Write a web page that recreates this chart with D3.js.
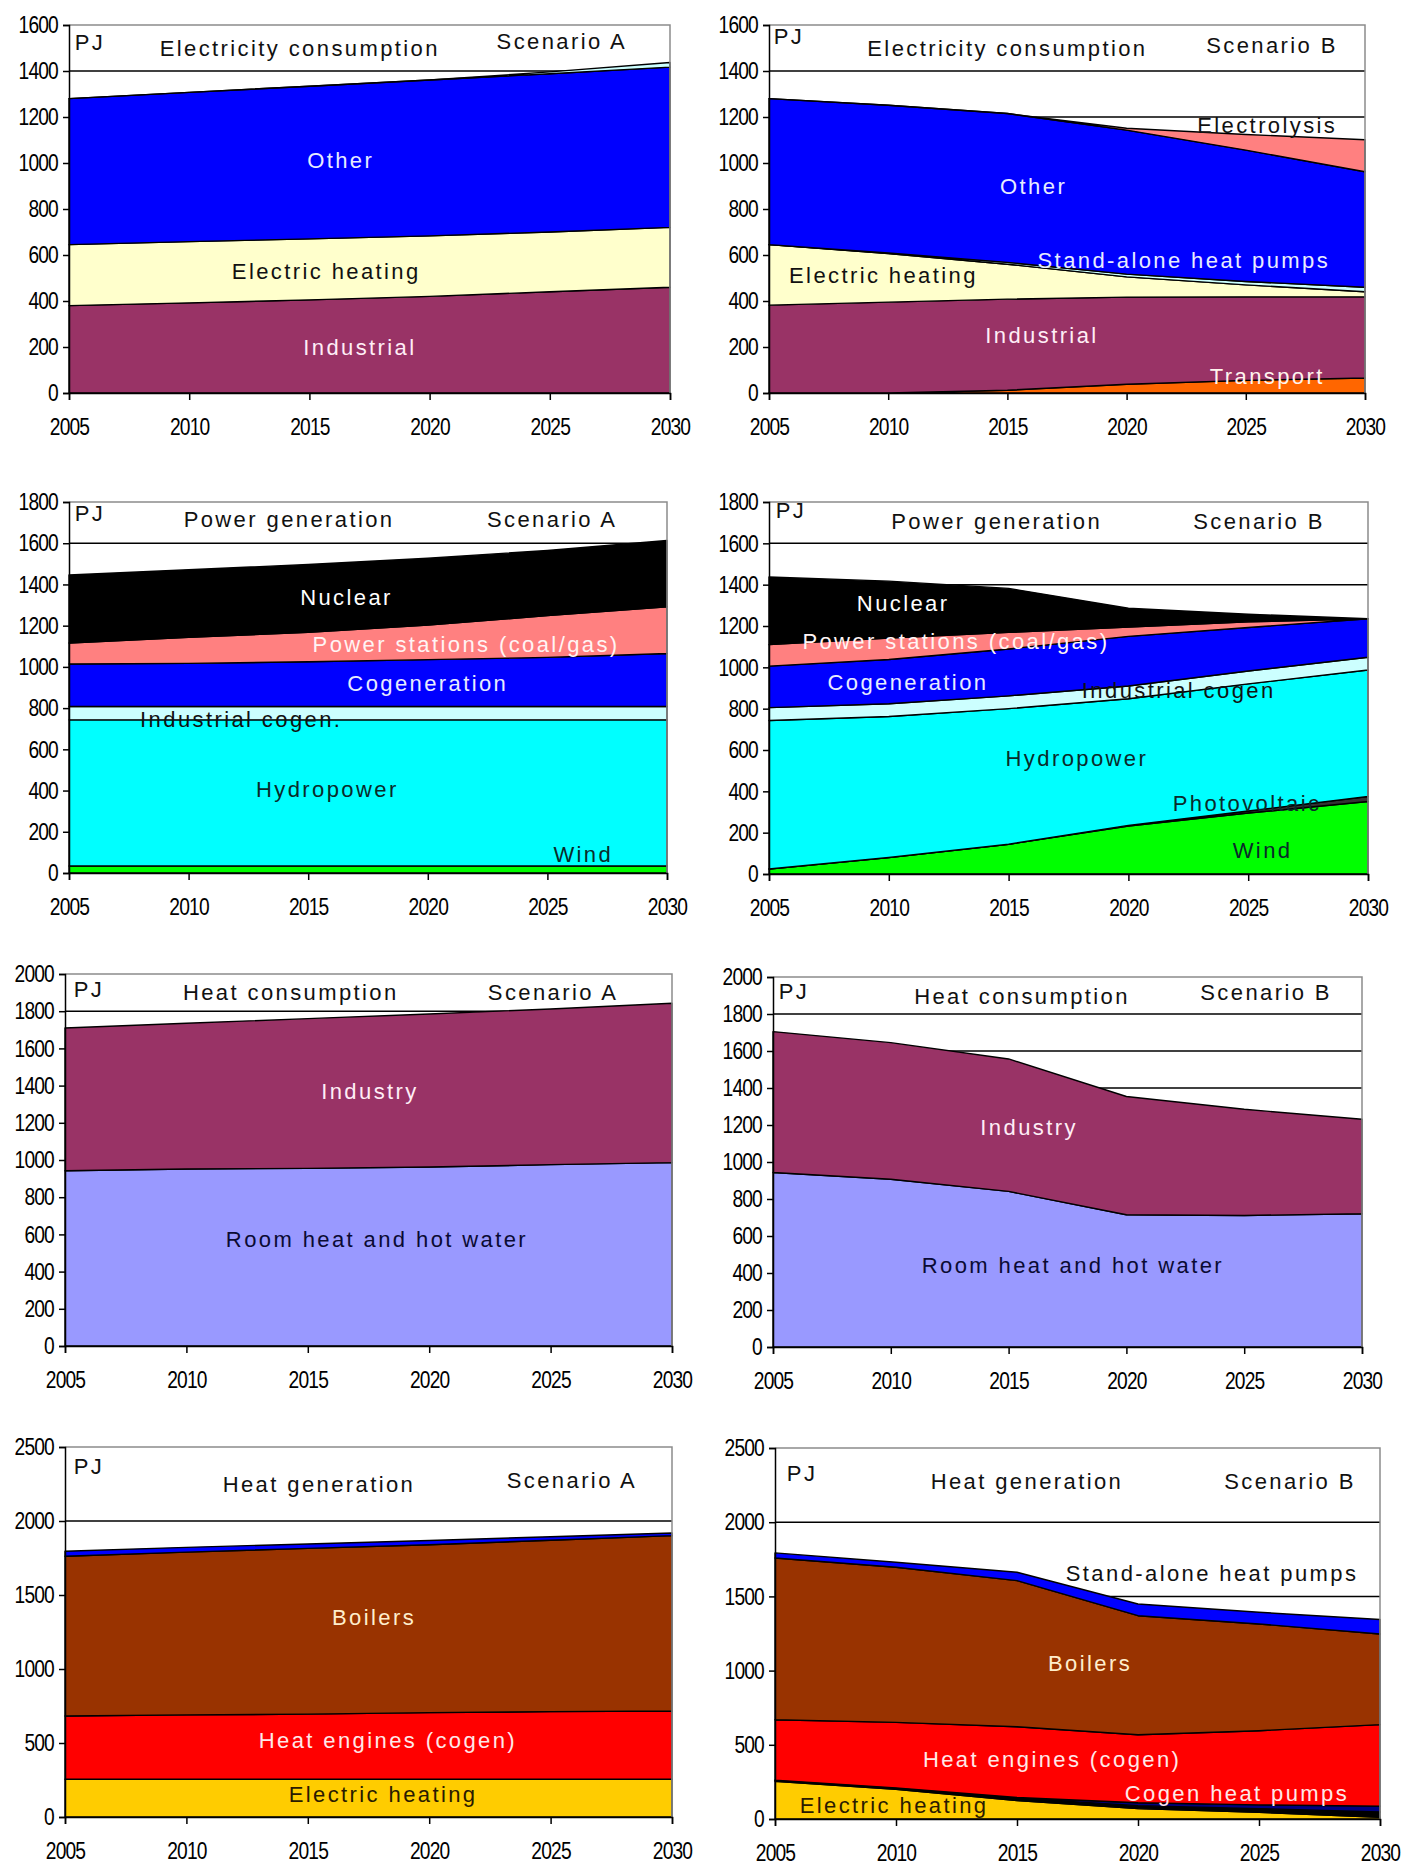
<!DOCTYPE html>
<html>
<head>
<meta charset="utf-8">
<script src="https://cdn.jsdelivr.net/npm/d3@7"></script>
<style>
  body { margin: 0; background: #fff; }
  svg { display: block; }
  .axis text { font-family: "Liberation Sans", Arial, sans-serif; font-size: 24px; letter-spacing: -1px; fill: #000; }
  .axis path, .axis line { stroke: #000; stroke-width: 1.5px; }
  .lbl { font-family: "Liberation Sans", Arial, sans-serif; font-size: 22px; letter-spacing: 2.4px; }
</style>
</head>
<body>
<svg id="chart" width="1404" height="1866"></svg>
<script>
// Years on the horizontal axis of every panel
const years = [2005, 2010, 2015, 2020, 2025, 2030];

// Electricity consumption, scenario A (PJ per series, stacked bottom to top)
const elecA_industrial = [380, 392, 405, 420, 440, 460];
const elecA_heating    = [265, 266, 265, 263, 260, 260];
const elecA_other      = [635, 649, 664, 678, 688, 697];
const elecA_pumps      = [0, 0, 0, 0, 8, 20];

// Electricity consumption, scenario B
const elecB_transport   = [0, 0, 12, 38, 55, 65];
const elecB_industrial  = [382, 395, 396, 379, 363, 353];
const elecB_heating     = [263, 211, 152, 88, 52, 22];
const elecB_pumps       = [0, 3, 8, 12, 15, 20];
const elecB_other       = [635, 642, 647, 626, 571, 502];
const elecB_electrolysis = [0, 0, 0, 8, 68, 139];

// Power generation, scenario A
const powA_wind     = [34, 34, 34, 34, 34, 34];
const powA_hydro    = [709, 709, 709, 709, 709, 709];
const powA_indCogen = [65, 65, 65, 65, 65, 65];
const powA_cogen    = [206, 209, 217, 227, 238, 257];
const powA_stations = [102, 126, 143, 168, 203, 227];
const powA_nuclear  = [330, 328, 329, 324, 316, 321];

// Power generation, scenario B
const powB_wind     = [24, 80, 144, 232, 295, 351];
const powB_pv       = [0, 0, 0, 3, 10, 24];
const powB_hydro    = [719, 682, 656, 613, 615, 612];
const powB_indCogen = [62, 62, 62, 62, 62, 62];
const powB_cogen    = [201, 214, 227, 240, 211, 186];
const powB_stations = [104, 104, 80, 45, 27, 0];
const powB_nuclear  = [327, 275, 213, 91, 37, 0];

// Heat consumption
const heatA_room     = [942, 952, 955, 962, 975, 986];
const heatA_industry = [768, 783, 805, 823, 837, 857];
const heatB_room     = [943, 907, 841, 715, 711, 720];
const heatB_industry = [762, 738, 716, 639, 574, 511];

// Heat generation, scenario A
const genA_electric = [255, 255, 255, 255, 255, 255];
const genA_engines  = [427, 435, 440, 450, 457, 461];
const genA_boilers  = [1080, 1100, 1120, 1135, 1158, 1185];
const genA_pumps    = [34, 32, 30, 28, 24, 18];

// Heat generation, scenario B
const genB_electric    = [254, 200, 125, 70, 45, 12];
const genB_misc        = [8, 10, 15, 20, 25, 35];
const genB_cogenPumps  = [0, 0, 5, 20, 25, 40];
const genB_engines     = [407, 441, 477, 458, 500, 549];
const genB_boilers     = [1090, 1045, 984, 802, 719, 611];
const genB_pumps       = [34, 34, 57, 79, 79, 97];

// Series colours
const C = {
  plum: "#993366", cream: "#ffffcc", blue: "#0000ff", salmon: "#ff8080",
  orange: "#ff6600", paleCyan: "#ccffff", black: "#000000", cyan: "#00ffff",
  green: "#00ff00", darkGrey: "#333333", lavender: "#9999ff", gold: "#ffcc00",
  red: "#ff0000", brown: "#993300", navy: "#000080"
};

// Panel definitions: frame [left, top, right, bottom], y-range, series, labels (placed in data units)
const panels = [
  {
    box: [69, 25, 670, 393], yMax: 1600, yStep: 200,
    title: "Electricity consumption", scen: "Scenario A",
    head: { pj: [2005.87, 1526], title: [2014.6, 1496], scen: [2025.5, 1530] },
    series: [
      { v: elecA_industrial, fill: C.plum },
      { v: elecA_heating, fill: C.cream },
      { v: elecA_other, fill: C.blue },
      { v: elecA_pumps, fill: C.paleCyan }
    ],
    labels: [
      { t: "Other", at: [2016.3, 1009], c: "#e8ecff" },
      { t: "Electric heating", at: [2015.7, 530], c: "#111" },
      { t: "Industrial", at: [2017.1, 200], c: "#ffeef6" }
    ]
  },
  {
    box: [769, 25, 1365, 393], yMax: 1600, yStep: 200,
    title: "Electricity consumption", scen: "Scenario B",
    head: { pj: [2005.84, 1552], title: [2015.0, 1500], scen: [2026.1, 1513] },
    series: [
      { v: elecB_transport, fill: C.orange },
      { v: elecB_industrial, fill: C.plum },
      { v: elecB_heating, fill: C.cream },
      { v: elecB_pumps, fill: C.paleCyan },
      { v: elecB_other, fill: C.blue },
      { v: elecB_electrolysis, fill: C.salmon }
    ],
    labels: [
      { t: "Electrolysis", at: [2025.9, 1165], c: "#111" },
      { t: "Other", at: [2016.1, 896], c: "#e8ecff" },
      { t: "Stand-alone heat pumps", at: [2022.4, 574], c: "#e8ecff" },
      { t: "Electric heating", at: [2009.8, 513], c: "#111" },
      { t: "Industrial", at: [2016.45, 248], c: "#ffeef6" },
      { t: "Transport", at: [2025.9, 70], c: "#fff4ee" }
    ]
  },
  {
    box: [69, 502, 667, 873], yMax: 1800, yStep: 200,
    title: "Power generation", scen: "Scenario A",
    head: { pj: [2005.88, 1742], title: [2014.2, 1713], scen: [2025.2, 1713] },
    series: [
      { v: powA_wind, fill: C.green },
      { v: powA_hydro, fill: C.cyan },
      { v: powA_indCogen, fill: C.paleCyan },
      { v: powA_cogen, fill: C.blue },
      { v: powA_stations, fill: C.salmon },
      { v: powA_nuclear, fill: C.black }
    ],
    labels: [
      { t: "Nuclear", at: [2016.6, 1339], c: "#fff" },
      { t: "Power stations (coal/gas)", at: [2021.6, 1111], c: "#fff4f4" },
      { t: "Cogeneration", at: [2020.0, 917], c: "#e8ecff" },
      { t: "Industrial cogen.", at: [2012.2, 747], c: "#111" },
      { t: "Hydropower", at: [2015.8, 403], c: "#0a2a2a" },
      { t: "Wind", at: [2026.5, 92], c: "#0a2a2a" }
    ]
  },
  {
    box: [769, 502, 1368, 874], yMax: 1800, yStep: 200,
    title: "Power generation", scen: "Scenario B",
    head: { pj: [2005.92, 1761], title: [2014.5, 1708], scen: [2025.45, 1708] },
    series: [
      { v: powB_wind, fill: C.green },
      { v: powB_pv, fill: C.darkGrey },
      { v: powB_hydro, fill: C.cyan },
      { v: powB_indCogen, fill: C.paleCyan },
      { v: powB_cogen, fill: C.blue },
      { v: powB_stations, fill: C.salmon },
      { v: powB_nuclear, fill: C.black }
    ],
    labels: [
      { t: "Nuclear", at: [2010.6, 1311], c: "#fff" },
      { t: "Power stations (coal/gas)", at: [2012.8, 1123], c: "#fff4f4" },
      { t: "Cogeneration", at: [2010.8, 929], c: "#e8ecff" },
      { t: "Industrial cogen", at: [2022.1, 890], c: "#111" },
      { t: "Hydropower", at: [2017.85, 561], c: "#0a2a2a" },
      { t: "Photovoltaic", at: [2024.95, 339], c: "#0a2a2a" },
      { t: "Wind", at: [2025.6, 116], c: "#0a2a2a" }
    ]
  },
  {
    box: [65, 974, 672, 1346], yMax: 2000, yStep: 200,
    title: "Heat consumption", scen: "Scenario A",
    head: { pj: [2005.99, 1914], title: [2014.3, 1898], scen: [2025.1, 1903] },
    series: [
      { v: heatA_room, fill: C.lavender },
      { v: heatA_industry, fill: C.plum }
    ],
    labels: [
      { t: "Industry", at: [2017.56, 1366], c: "#ffeef6" },
      { t: "Room heat and hot water", at: [2017.85, 575], c: "#0a0a33" }
    ]
  },
  {
    box: [773, 977, 1362, 1347], yMax: 2000, yStep: 200,
    title: "Heat consumption", scen: "Scenario B",
    head: { pj: [2005.89, 1919], title: [2015.57, 1897], scen: [2025.93, 1914] },
    series: [
      { v: heatB_room, fill: C.lavender },
      { v: heatB_industry, fill: C.plum }
    ],
    labels: [
      { t: "Industry", at: [2015.87, 1184], c: "#ffeef6" },
      { t: "Room heat and hot water", at: [2017.73, 438], c: "#0a0a33" }
    ]
  },
  {
    box: [65, 1447, 672, 1817], yMax: 2500, yStep: 500,
    title: "Heat generation", scen: "Scenario A",
    head: { pj: [2005.99, 2365], title: [2015.46, 2250], scen: [2025.88, 2277] },
    series: [
      { v: genA_electric, fill: C.gold },
      { v: genA_engines, fill: C.red },
      { v: genA_boilers, fill: C.brown },
      { v: genA_pumps, fill: C.blue }
    ],
    labels: [
      { t: "Boilers", at: [2017.73, 1345], c: "#ffeecc" },
      { t: "Heat engines (cogen)", at: [2018.3, 514], c: "#ffe8e8" },
      { t: "Electric heating", at: [2018.1, 155], c: "#2a1a00" }
    ]
  },
  {
    box: [775, 1448, 1380, 1819], yMax: 2500, yStep: 500,
    title: "Heat generation", scen: "Scenario B",
    head: { pj: [2006.12, 2331], title: [2015.41, 2271], scen: [2026.28, 2271] },
    series: [
      { v: genB_electric, fill: C.gold },
      { v: genB_misc, fill: C.black },
      { v: genB_cogenPumps, fill: C.navy },
      { v: genB_engines, fill: C.red },
      { v: genB_boilers, fill: C.brown },
      { v: genB_pumps, fill: C.blue }
    ],
    labels: [
      { t: "Stand-alone heat pumps", at: [2023.06, 1651], c: "#111" },
      { t: "Boilers", at: [2018.02, 1051], c: "#ffeecc" },
      { t: "Heat engines (cogen)", at: [2016.45, 404], c: "#ffe8e8" },
      { t: "Cogen heat pumps", at: [2024.09, 169], c: "#ffe8e8" },
      { t: "Electric heating", at: [2009.92, 88], c: "#2a1a00" }
    ]
  }
];

const svg = d3.select("#chart");

// squeeze the axis digits horizontally into a condensed look
function condense(sel) {
  sel.selectAll(".tick text").each(function () {
    const t = d3.select(this);
    const tx = +t.attr("x") || 0, ty = +t.attr("y") || 0;
    t.attr("x", 0).attr("y", 0).attr("transform", `translate(${tx},${ty}) scale(0.8,1)`);
  });
}

panels.forEach(p => {
  const [L, T, R, B] = p.box;
  const x = d3.scaleLinear().domain([2005, 2030]).range([L, R]);
  const y = d3.scaleLinear().domain([0, p.yMax]).range([B, T]);
  const g = svg.append("g");
  const ticks = d3.range(0, p.yMax + 1, p.yStep);

  // horizontal gridlines, behind the stacked areas
  g.selectAll("line.grid")
    .data(ticks.filter(t => t > 0 && t < p.yMax))
    .join("line")
    .attr("x1", L).attr("x2", R)
    .attr("y1", d => y(d)).attr("y2", d => y(d))
    .attr("stroke", "#000").attr("stroke-width", 1.5);

  // stacked areas
  const rows = years.map((yr, i) => {
    const r = { year: yr };
    p.series.forEach((s, k) => { r["s" + k] = s.v[i]; });
    return r;
  });
  const keys = p.series.map((s, k) => "s" + k);
  const stacked = d3.stack().keys(keys)(rows);
  const area = d3.area()
    .x(d => x(d.data.year))
    .y0(d => y(d[0]))
    .y1(d => y(d[1]));

  g.selectAll("path.layer")
    .data(stacked)
    .join("path")
    .attr("d", area)
    .attr("fill", (d, k) => p.series[k].fill)
    .attr("stroke", "#000")
    .attr("stroke-width", 1.4)
    .attr("stroke-linejoin", "round");

  // plot frame (top and right edges grey)
  g.append("path")
    .attr("d", `M${L},${T}H${R}V${B}`)
    .attr("fill", "none")
    .attr("stroke", "#8c8c8c")
    .attr("stroke-width", 1.5);

  // axes
  g.append("g").attr("class", "axis")
    .attr("transform", `translate(${L},0)`)
    .call(d3.axisLeft(y).tickValues(ticks).tickSize(6).tickPadding(5).tickFormat(d3.format("d")))
    .call(condense);
  g.append("g").attr("class", "axis")
    .attr("transform", `translate(0,${B})`)
    .call(d3.axisBottom(x).tickValues(years).tickSize(7).tickPadding(18).tickFormat(d3.format("d")))
    .call(condense);

  // in-plot header texts
  const hd = [
    { t: "PJ", at: p.head.pj },
    { t: p.title, at: p.head.title },
    { t: p.scen, at: p.head.scen }
  ];
  g.selectAll("text.head")
    .data(hd)
    .join("text")
    .attr("class", "lbl")
    .attr("x", d => x(d.at[0])).attr("y", d => y(d.at[1]))
    .attr("text-anchor", "middle")
    .attr("dominant-baseline", "central")
    .attr("fill", "#111")
    .text(d => d.t);

  // series labels
  g.selectAll("text.series")
    .data(p.labels)
    .join("text")
    .attr("class", "lbl")
    .attr("x", d => x(d.at[0])).attr("y", d => y(d.at[1]))
    .attr("text-anchor", "middle")
    .attr("dominant-baseline", "central")
    .attr("fill", d => d.c)
    .text(d => d.t);
});
</script>
</body>
</html>
